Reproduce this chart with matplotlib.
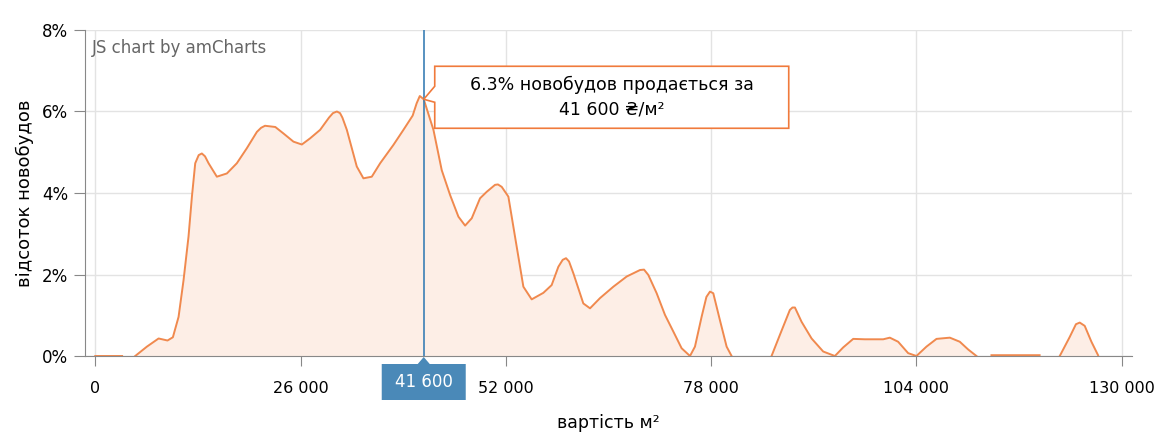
import numpy as np
import matplotlib.pyplot as plt
from matplotlib.patches import Polygon

# price per m2 (UAH) and share of new buildings (%); NaN = gap in line
price = [0, 3400, np.nan,
         5060, 6540, 8020, 9150, 9830, 10550, 11180, 11810, 12240, 12660, 13100, 13500,
         13900, 14350, 15400, 16670, 17930, 19200, 20470, 21000, 21500, 22800, 23840, 25100,
         26160, 27200, 28480, 29600, 30100, 30600, 31000, 31300, 31860, 33120, 33960, 35020,
         36080, 37760, 39030, 40200, 40700, 41100, 41600, 42830, 43880, 44940, 45990,
         46840, 47680, 48730, 49580, 50630, 51000, 51480, 52320, 53160, 54220, 55270,
         56750, 57800, 58650, 59200, 59620, 60000, 60550, 61810, 62660, 63920, 65610, 67300,
         68990, 69500, 70040, 71100, 72150, 73210, 74260, 75320, 75950, 76790, 77400, 77850,
         78270, 79110, 79960, 80590, np.nan,
         85650, 86710, 87970, 88300, 88610, 89450, 90720, 92190, 93670, 94720, 95990,
         97470, 99790, 100630, 101680, 102950, 104000, 105270, 106540, 108230,
         109490, 110550, 111600, np.nan,
         113500, 119600, np.nan,
         122150, 123420, 124200, 124680, 125310, 126160, 127000]
share = [0, 0, np.nan,
         0, 0.23, 0.43, 0.38, 0.46, 0.96, 1.86, 2.93, 3.91, 4.73, 4.93, 4.97,
         4.90, 4.73, 4.40, 4.48, 4.73, 5.10, 5.50, 5.60, 5.65, 5.62, 5.46, 5.26,
         5.19, 5.34, 5.55, 5.85, 5.96, 6.00, 5.96, 5.85, 5.55, 4.65, 4.36, 4.40,
         4.73, 5.18, 5.55, 5.90, 6.20, 6.38, 6.30, 5.55, 4.56, 3.95, 3.42,
         3.20, 3.38, 3.87, 4.03, 4.20, 4.21, 4.15, 3.91, 2.93, 1.70, 1.39,
         1.55, 1.74, 2.19, 2.36, 2.40, 2.32, 2.03, 1.29, 1.17, 1.42, 1.70, 1.95,
         2.11, 2.12, 1.99, 1.54, 1.01, 0.60, 0.19, 0, 0.23, 0.96, 1.45, 1.58,
         1.54, 0.88, 0.23, 0, np.nan,
         0, 0.52, 1.13, 1.19, 1.19, 0.84, 0.43, 0.11, 0, 0.21, 0.42,
         0.41, 0.41, 0.45, 0.35, 0.07, 0, 0.23, 0.42, 0.45,
         0.35, 0.16, 0, np.nan,
         0.02, 0.02, np.nan,
         0, 0.47, 0.78, 0.82, 0.74, 0.35, 0.02]

xticks = [0, 26000, 52000, 78000, 104000, 130000]
yticks = [0, 2, 4, 6, 8]
cursor_price = 41600
cursor_share = 6.3

orange = '#f0894e'
blue = '#4a89b8'

x = np.array(price, dtype=float)
y = np.array(share, dtype=float)

fig = plt.figure(figsize=(11.73, 4.44), dpi=100)
ax = fig.add_axes([85 / 1173, 1 - 356 / 444, (1132 - 85) / 1173, (356 - 30) / 444])

ax.fill_between(x, 0, y, color='#fdeee6', linewidth=0)
ax.plot(x, y, color=orange, linewidth=1.4, solid_joinstyle='round')

ax.set_xlim(-1300, 131300)
ax.set_ylim(0, 8)
ax.set_xticks(xticks)
ax.set_xticklabels(['{:,}'.format(v).replace(',', ' ') for v in xticks])
ax.set_yticks(yticks)
ax.set_yticklabels([f'{v}%' for v in yticks])
ax.tick_params(axis='x', length=7, pad=11, color='#888888', labelsize=11.5)
ax.tick_params(axis='y', length=8, pad=4, color='#888888', labelsize=12)
ax.grid(True, color='#e3e3e3', linewidth=1)
ax.set_axisbelow(True)
for s in ['top', 'right']:
    ax.spines[s].set_visible(False)
for s in ['left', 'bottom']:
    ax.spines[s].set_color('#888888')

ax.set_xlabel('вартість м²', fontsize=12.5, labelpad=13)
ax.set_ylabel('відсоток новобудов', fontsize=13, labelpad=6)

ax.text(0.007, 0.945, 'JS chart by amCharts', transform=ax.transAxes,
        fontsize=12, color='#666666', va='center', ha='left')

# cursor line
ax.axvline(cursor_price, color='#3b7fb5', linewidth=1.2, zorder=5)

# cursor label under axis (pixel offsets from the cursor)
px0, py0 = ax.transData.transform((cursor_price, 0))
def disp(dx, dy):
    return (px0 + dx, py0 + dy)
label_poly = Polygon([disp(-42, -8), disp(-6, -8), disp(0, -1), disp(6, -8),
                      disp(42, -8), disp(42, -44), disp(-42, -44)],
                     closed=True, facecolor=blue, edgecolor='none',
                     transform=None, clip_on=False, zorder=6)
fig.patches.append(label_poly)
fig.text(px0 / 1173, (py0 - 26) / 444, '41 600', color='white',
         fontsize=12, ha='center', va='center', zorder=7)

# tooltip
tx, ty = ax.transData.transform((cursor_price, cursor_share))
def tdisp(dx, dy):
    return (tx + dx, ty + dy)
tip = Polygon([tdisp(0, 0), tdisp(11, 13), tdisp(11, 33), tdisp(365, 33),
               tdisp(365, -29), tdisp(11, -29), tdisp(11, -3)],
              closed=True, facecolor='white', edgecolor='#f07a3c',
              linewidth=1.2, transform=None, clip_on=False, zorder=8)
fig.patches.append(tip)
fig.text((tx + 188) / 1173, (ty + 2) / 444,
         f'{cursor_share}% новобудов продається за\n41 600 ₴/м²',
         fontsize=12.5, ha='center', va='center', linespacing=1.5, zorder=9)

fig.savefig('out.png', dpi=100)
